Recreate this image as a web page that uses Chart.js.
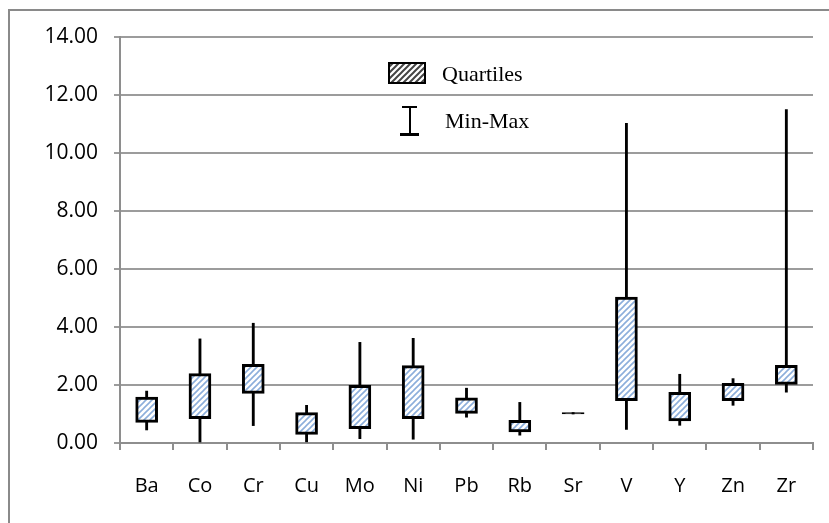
<!DOCTYPE html>
<html>
<head>
<meta charset="utf-8">
<script src="https://cdn.jsdelivr.net/npm/chart.js@4"></script>
<style>
  body { margin: 0; background: #fff; }
  canvas { display: block; }
</style>
</head>
<body>
<canvas id="boxChart" width="829" height="523"></canvas>
<script>
const categories = ["Ba", "Co", "Cr", "Cu", "Mo", "Ni", "Pb", "Rb", "Sr", "V", "Y", "Zn", "Zr"];
const minVals = [0.45, 0.0, 0.6, 0.04, 0.15, 0.13, 0.89, 0.27, 1.0, 0.47, 0.61, 1.3, 1.75];
const q1Vals = [0.71, 0.84, 1.71, 0.3, 0.49, 0.84, 1.02, 0.38, 1.0, 1.46, 0.76, 1.46, 2.02];
const q3Vals = [1.58, 2.39, 2.71, 1.05, 1.99, 2.67, 1.56, 0.78, 1.05, 5.03, 1.75, 2.06, 2.68];
const maxVals = [1.79, 3.59, 4.13, 1.3, 3.47, 3.61, 1.89, 1.4, 1.05, 11.02, 2.37, 2.22, 11.5];
const yTicks = [0, 2, 4, 6, 8, 10, 12, 14];

const ctx = document.getElementById("boxChart").getContext("2d");

function makeHatch(bg, fg, size, width) {
  const c = document.createElement("canvas");
  c.width = size;
  c.height = size;
  const g = c.getContext("2d");
  g.fillStyle = bg;
  g.fillRect(0, 0, size, size);
  g.strokeStyle = fg;
  g.lineWidth = width;
  g.beginPath();
  g.moveTo(-1, size + 1);
  g.lineTo(size + 1, -1);
  g.moveTo(-1, 1);
  g.lineTo(1, -1);
  g.moveTo(size - 1, size + 1);
  g.lineTo(size + 1, size - 1);
  g.stroke();
  return ctx.createPattern(c, "repeat");
}

const boxHatch = makeHatch("#ffffff", "#8caedb", 6, 1.6);
const legendHatch = makeHatch("#ffffff", "#444444", 6, 2);

// frame + legend drawn on the canvas
const extras = {
  id: "extras",
  beforeDraw(chart) {
    const c = chart.ctx;
    c.save();
    c.strokeStyle = "#8a8a8a";
    c.lineWidth = 2;
    c.beginPath();
    c.moveTo(9, 523);
    c.lineTo(9, 10);
    c.lineTo(829, 10);
    c.stroke();
    c.restore();
  },
  afterDraw(chart) {
    const c = chart.ctx;
    c.save();
    c.fillStyle = legendHatch;
    c.fillRect(389, 63, 36, 20);
    c.strokeStyle = "#000";
    c.lineWidth = 2;
    c.strokeRect(389, 63, 36, 20);
    c.fillStyle = "#000";
    c.fillRect(402, 106, 15, 2);
    c.fillRect(409, 106, 2, 28);
    c.fillRect(400, 133, 19, 3);
    c.font = "22px 'Liberation Serif'";
    c.textBaseline = "middle";
    c.fillText("Quartiles", 442, 75);
    c.fillText("Min-Max", 445, 122);
    c.restore();
  }
};

new Chart(ctx, {
  type: "bar",
  data: {
    labels: categories,
    datasets: [
      {
        label: "Quartiles",
        data: categories.map((c, i) => [q1Vals[i], q3Vals[i]]),
        // a box with almost no spread shows as a solid dash
        backgroundColor: (c) => (q3Vals[c.dataIndex] - q1Vals[c.dataIndex] < 0.1 ? "#000" : boxHatch),
        borderColor: "#000",
        borderWidth: 3,
        borderSkipped: false,
        barThickness: 22,
        grouped: false
      },
      {
        label: "Min-Max",
        data: categories.map((c, i) => [minVals[i], maxVals[i]]),
        backgroundColor: "#000",
        borderWidth: 0,
        barThickness: 2.2,
        grouped: false
      }
    ]
  },
  options: {
    responsive: false,
    animation: false,
    layout: { padding: { left: 0, top: 37, right: 16, bottom: 0 } },
    plugins: {
      legend: { display: false },
      tooltip: { enabled: false }
    },
    scales: {
      x: {
        afterFit: (s) => { s.height = 80; },
        grid: {
          offset: true,
          drawOnChartArea: false,
          tickLength: 7,
          color: "#8e8e8e",
          lineWidth: 2
        },
        border: { color: "#8e8e8e", width: 2 },
        ticks: {
          color: "#000",
          padding: 24,
          font: { family: "'Open Sans'", size: 20 }
        }
      },
      y: {
        min: 0,
        max: 14,
        afterFit: (s) => { s.width = 120; },
        afterBuildTicks: (s) => { s.ticks = yTicks.map((v) => ({ value: v })); },
        grid: {
          tickLength: 6,
          color: "#9c9c9c",
          lineWidth: 2
        },
        border: { color: "#8e8e8e", width: 2 },
        ticks: {
          color: "#000",
          padding: 16,
          font: { family: "'Open Sans'", size: 21 },
          callback: (v) => v.toFixed(2)
        }
      }
    }
  },
  plugins: [extras]
});
</script>
</body>
</html>
